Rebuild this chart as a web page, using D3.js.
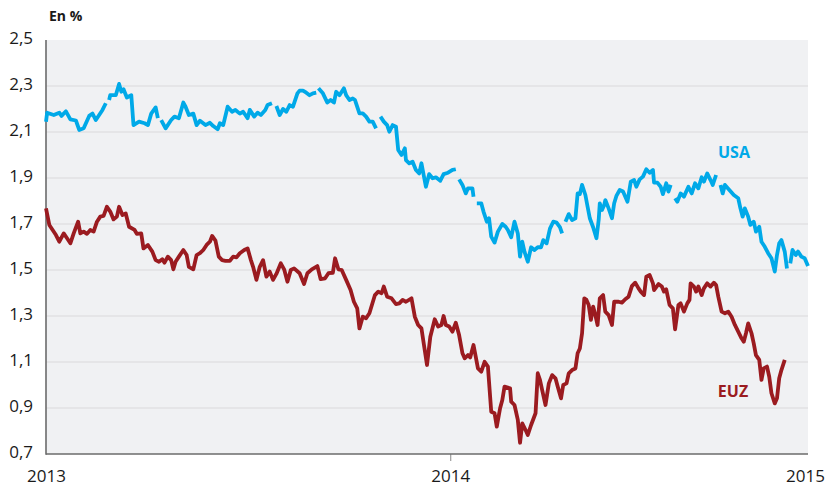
<!DOCTYPE html>
<html>
<head>
<meta charset="utf-8">
<script src="https://cdn.jsdelivr.net/npm/d3@7"></script>
<style>
  body { margin: 0; background: #fff; }
  text { font-family: "Open Sans", sans-serif; fill: #1a1a1a; }
</style>
</head>
<body>
<script>
// Days counted from 1 Jan 2013, values in %
var usaDays = [0,1,7,12,14,18,22,27,30,34,39,42,45,51,54,56,57,58,63,66,68,70,73,77,79,84,89,92,95,99,101,102,104,108,113,116,120,124,126,129,133,136,139,144,148,151,155,157,160,164,168,171,175,178,182,184,188,191,194,198,200,204,205,208,211,214,217,220,223,227,229,232,235,238,241,244,245,246,250,254,257,260,262,265,269,271,274,277,279,283,286,289,292,295,298,300,302,305,308,310,313,316,318,321,324,325,328,331,334,337,339,343,346,349,352,356,359,363,367,370,371,373,376,379,381,385,386,387,389,393,395,398,400,402,405,408,412,415,417,420,423,426,428,430,432,435,438,441,444,447,449,452,455,458,461,464,466,467,469,472,475,478,480,482,484,487,489,491,494,497,499,500,502,504,505,508,511,513,515,518,521,525,528,531,533,536,539,542,545,548,549,552,555,557,560,562,564,566,568,570,573,576,580,583,586,589,592,594,597,600,602,605,607,609,611,613,617,621,625,627,629,631,634,636,639,641,644,646,649,652,655,658,660,662,664,667,669,670,672,674,677,679,682,685,688];
var usaValues = [2.145,2.184,2.174,2.184,2.17,2.19,2.155,2.15,2.109,2.116,2.17,2.18,2.152,2.196,2.225,null,2.239,2.26,2.26,2.309,2.275,2.286,2.25,2.26,2.13,2.145,2.138,2.13,2.18,2.207,2.16,null,2.152,2.116,2.152,2.167,2.16,2.228,2.21,2.174,2.18,2.13,2.149,2.13,2.14,2.126,2.112,2.138,2.13,2.21,2.188,2.196,2.18,2.188,2.16,2.196,2.167,2.184,2.174,2.196,2.217,2.225,null,2.213,2.174,2.2,2.188,2.217,2.21,2.268,2.28,2.28,2.271,2.26,2.268,2.271,null,2.29,2.268,2.228,2.239,2.228,2.275,2.26,2.29,2.26,2.239,2.246,2.239,2.181,2.181,2.167,2.145,2.145,2.116,null,2.167,2.145,2.13,2.101,2.13,2.123,2.022,2.0,2.029,1.978,1.964,1.971,1.935,1.92,1.964,1.862,1.917,1.899,1.903,1.888,1.917,1.923,1.935,1.938,null,1.894,1.87,1.833,1.855,1.855,1.819,null,1.79,1.79,1.754,1.71,1.725,1.645,1.619,1.667,1.7,1.688,1.674,1.642,1.71,1.659,1.558,1.623,1.58,1.536,1.599,1.587,1.599,1.599,1.63,1.616,1.68,1.71,1.706,1.686,1.659,null,1.71,1.743,1.717,1.725,1.833,1.83,1.87,1.826,1.775,1.725,1.686,1.638,1.717,1.79,1.761,1.783,1.804,1.768,1.725,1.79,1.822,1.848,1.841,1.797,1.884,1.891,1.862,1.894,1.906,1.938,1.923,1.935,1.88,1.88,1.862,1.83,1.877,1.841,1.87,null,1.812,1.797,1.833,1.819,1.862,1.833,1.877,1.855,1.903,1.884,1.92,1.891,1.87,1.913,null,1.87,1.833,1.87,1.848,1.826,1.812,1.768,1.732,1.768,1.732,1.696,1.71,1.667,1.688,1.623,1.601,1.573,1.551,1.493,1.565,1.616,1.63,1.58,1.507,null,1.529,1.587,1.565,1.58,1.558,1.551,1.517];

var euzDays = [0,3,6,9,12,16,19,22,25,29,31,34,37,40,43,46,49,52,55,58,61,64,66,69,72,75,80,82,86,88,92,96,99,102,105,107,110,113,115,117,120,124,127,129,133,136,139,142,145,148,150,153,156,159,162,166,169,172,175,179,182,185,187,190,193,196,199,202,205,208,212,215,218,221,224,229,233,236,240,245,248,252,255,259,261,264,267,271,275,278,281,283,286,289,292,297,300,303,305,308,312,316,319,322,325,330,333,336,339,344,347,351,354,357,359,361,364,367,370,373,376,378,381,383,386,388,390,393,396,399,402,405,407,410,412,414,419,420,423,426,428,430,433,435,438,442,444,446,448,451,454,457,460,462,465,467,470,472,475,478,480,482,484,486,488,490,492,494,496,498,500,503,505,508,511,513,517,520,523,526,529,532,535,537,540,542,545,548,549,553,556,558,560,563,566,568,571,573,576,579,581,582,585,587,589,592,594,597,600,603,605,607,610,613,616,619,622,625,628,630,632,634,637,639,641,644,646,648,651,653,655,658,660,662,664,667];
var euzValues = [1.768,1.696,1.674,1.652,1.623,1.659,1.638,1.616,1.659,1.71,1.659,1.667,1.657,1.674,1.667,1.71,1.732,1.735,1.775,1.754,1.72,1.732,1.775,1.739,1.746,1.688,1.674,1.657,1.659,1.594,1.609,1.58,1.543,1.536,1.547,1.532,1.558,1.543,1.503,1.536,1.558,1.587,1.565,1.514,1.503,1.565,1.573,1.587,1.609,1.623,1.648,1.628,1.558,1.543,1.54,1.54,1.558,1.555,1.573,1.587,1.594,1.543,1.514,1.457,1.514,1.543,1.471,1.493,1.457,1.483,1.529,1.503,1.449,1.5,1.507,1.486,1.439,1.486,1.503,1.517,1.46,1.464,1.486,1.488,1.551,1.503,1.5,1.457,1.413,1.362,1.333,1.246,1.297,1.29,1.312,1.391,1.406,1.399,1.428,1.384,1.377,1.352,1.355,1.37,1.362,1.377,1.297,1.261,1.246,1.087,1.21,1.286,1.254,1.261,1.3,1.261,1.254,1.232,1.271,1.217,1.138,1.116,1.13,1.12,1.174,1.123,1.072,1.058,1.101,1.08,0.884,0.877,0.819,0.899,0.935,0.993,0.986,0.928,0.913,0.848,0.749,0.833,0.804,0.783,0.826,0.877,1.051,1.022,0.978,0.913,1.007,1.043,1.029,0.993,0.942,1.0,1.007,1.051,1.065,1.072,1.138,1.159,1.225,1.377,1.37,1.348,1.283,1.341,1.304,1.261,1.377,1.391,1.319,1.304,1.261,1.362,1.362,1.358,1.373,1.384,1.43,1.445,1.42,1.406,1.391,1.471,1.478,1.442,1.413,1.439,1.428,1.406,1.416,1.348,1.333,1.242,1.348,1.355,1.319,1.355,1.37,1.442,1.428,1.406,1.428,1.391,1.42,1.442,1.428,1.445,1.435,1.384,1.319,1.312,1.319,1.297,1.261,1.232,1.203,1.188,1.225,1.268,1.225,1.181,1.13,1.109,1.022,1.072,1.08,1.036,0.964,0.92,0.942,1.029,1.065,1.109];

var yTicks = [0.7, 0.9, 1.1, 1.3, 1.5, 1.7, 1.9, 2.1, 2.3, 2.5];
var yearLabels = ["2013", "2014", "2015"];

var width = 833, height = 487;
var margin = {top: 40, right: 25, bottom: 33, left: 46};

var start = new Date(2013, 0, 1);
var end = new Date(2014, 10, 20);

function toSeries(days, values){
    return days.map(function(d, i){
        return {date: d3.timeDay.offset(start, d), value: values[i]};
    });
}
var usa = toSeries(usaDays, usaValues);
var euz = toSeries(euzDays, euzValues);

var svg = d3.select('body').append('svg')
    .attr('width', width)
    .attr('height', height);

var x = d3.scaleTime()
    .domain([start, end])
    .range([margin.left, width - margin.right]);
var y = d3.scaleLinear()
    .domain([0.7, 2.5])
    .range([height - margin.bottom, margin.top]);

// plot background
svg.append('rect')
    .attr('x', x.range()[0])
    .attr('y', y(2.5))
    .attr('width', x.range()[1] - x.range()[0])
    .attr('height', y(0.7) - y(2.5))
    .style('fill', '#f0f1f3');

// gridlines
svg.append('g').selectAll('line')
    .data(yTicks.slice(1, -1))
    .enter().append('line')
    .attr('x1', x.range()[0])
    .attr('x2', x.range()[1])
    .attr('y1', function(d){ return y(d); })
    .attr('y2', function(d){ return y(d); })
    .style('stroke', '#d9dadc')
    .style('stroke-width', 1.2);

// y labels
var fr = d3.formatLocale({decimal: ",", thousands: " ", grouping: [3], currency: ["", "€"]});
var fmt = fr.format(".1f");
svg.append('g').selectAll('text')
    .data(yTicks)
    .enter().append('text')
    .attr('x', 33)
    .attr('y', function(d){ return y(d) - 2; })
    .attr('dy', '0.35em')
    .attr('text-anchor', 'end')
    .style('font-size', '17px')
    .text(function(d){ return fmt(d); });

// x axis
var xTickDates = [start, new Date(2014, 0, 1), end];
var xAxis = svg.append('g')
    .attr('transform', 'translate(0,' + y(0.7) + ')')
    .call(d3.axisBottom(x)
        .tickValues(xTickDates)
        .tickSize(7)
        .tickFormat(function(d, i){ return yearLabels[i]; }));
xAxis.select('.domain').remove();
xAxis.selectAll('.tick line')
    .style('stroke', '#888')
    .style('display', function(d, i){ return i === 1 ? null : 'none'; });
xAxis.selectAll('.tick text')
    .attr('y', 28)
    .attr('x', function(d, i){ return i === 2 ? -3 : 0; })
    .attr('dy', null)
    .style('font-size', '17px')
    .style('font-family', '"Open Sans", sans-serif')
    .style('fill', '#1a1a1a');

// axis lines
svg.append('line')
    .attr('x1', x.range()[0]).attr('x2', x.range()[1])
    .attr('y1', y(0.7)).attr('y2', y(0.7))
    .style('stroke', '#6b6b6b').style('stroke-width', 1.6);
svg.append('line')
    .attr('x1', x.range()[0]).attr('x2', x.range()[0])
    .attr('y1', y(2.5)).attr('y2', y(0.7) + 0.8)
    .style('stroke', '#6b6b6b').style('stroke-width', 1.6);

// lines
var line = d3.line()
    .defined(function(d){ return d.value !== null; })
    .x(function(d){ return x(d.date); })
    .y(function(d){ return y(d.value); });

svg.append('path')
    .datum(usa)
    .attr('d', line)
    .style('fill', 'none')
    .style('stroke', '#00a9e8')
    .style('stroke-width', 3.8)
    .style('stroke-linejoin', 'round');

svg.append('path')
    .datum(euz)
    .attr('d', line)
    .style('fill', 'none')
    .style('stroke', '#9b1b20')
    .style('stroke-width', 3.8)
    .style('stroke-linejoin', 'round');

// labels
svg.append('text')
    .attr('x', 49).attr('y', 21)
    .style('font-size', '14px')
    .style('font-weight', 'bold')
    .text('En %');

svg.append('text')
    .attr('x', 734).attr('y', 158)
    .attr('text-anchor', 'middle')
    .style('font-size', '16px')
    .style('font-weight', 'bold')
    .style('fill', '#00a9e8')
    .text('USA');

svg.append('text')
    .attr('x', 733).attr('y', 397)
    .attr('text-anchor', 'middle')
    .style('font-size', '16px')
    .style('font-weight', 'bold')
    .style('fill', '#9b1b20')
    .text('EUZ');
</script>
</body>
</html>
